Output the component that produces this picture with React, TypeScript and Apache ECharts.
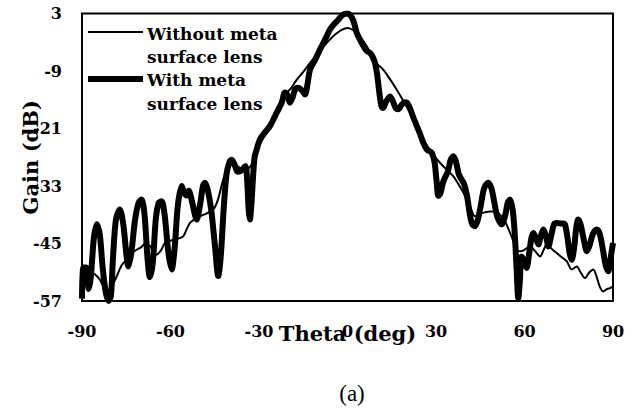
import React, { useEffect, useRef } from "react";
import * as echarts from "echarts";

// Radiation pattern, gain in dB against theta in degrees
const thetaWithout = [
  -90, -89.5, -88.4, -87, -85.5, -84, -82.8, -81.5, -80.5, -79.5, -78.2, -76.5, -74.8, -73, -71.5, -70,
  -68.5, -67, -65.8, -64.7, -63.3, -61.9, -60.5, -59, -57.5, -55.7, -54.5, -53.4, -52, -50, -48, -45.5,
  -44, -42.5, -41, -40, -38.5, -37, -35.5, -34, -32.5, -31, -29.5, -27, -24, -21.2, -19, -17.2, -15,
  -12.7, -10, -8, -5.9, -4, -2, 0, 2, 4, 6, 8, 10, 12.1, 14.5, 16.7, 19, 21.2, 23.5, 25.7, 28.5, 31.4,
  33.5, 35.9, 37.5, 39.3, 41.5, 43.2, 45, 46.5, 48.3, 50, 51.7, 53.5, 55.1, 56.2, 57.3, 58.5, 59.5, 61.9,
  63.5, 65.3, 66.5, 67.5, 69, 70.9, 72.5, 74.3, 76, 77.7, 79, 80.5, 82, 83.3, 84.5, 85.5, 86.7, 88, 89, 90,
];
const gainWithout = [
  -52.5, -51, -50.4, -51, -51.5, -52.5, -53.9, -54.8, -54.6, -53.5, -51.8, -49.5, -48.4, -47, -46.3, -45.8,
  -45, -45.5, -46.8, -47.3, -46.5, -44.9, -44.5, -44.2, -44, -43.5, -42, -40.7, -40, -39.3, -38.8, -37.9,
  -36, -32.5, -29.6, -28.5, -28.5, -29, -29.5, -29.5, -28.5, -26.5, -24, -21.5, -18.5, -14, -12.5, -10.8, -9.2,
  -7.3, -5.2, -3.8, -2.4, -1.3, -0.4, 0, -0.5, -1.8, -3.3, -5.5, -7.5, -8.7, -10.8, -12.9, -15.3, -17.7, -20.5, -23.3, -26, -28.2,
  -29.5, -31, -32.5, -34.4, -37.2, -39.3, -38.8, -38.5, -38.3, -38.3, -39, -40.5, -42.8, -44.5, -46.3, -46.6, -46.5, -45.6,
  -46.5, -47.7, -46.3, -45.2, -46, -47, -47.8, -48.7, -50.4, -49.8, -51, -52.2, -51, -50.4, -52, -54, -55, -54.5, -54.3, -54,
];

const thetaWith = [
  -90, -89.5, -88.5, -87.7, -87, -86, -85, -84, -83, -82, -81, -80.2, -79.5, -78.5, -77.2, -76, -75, -74.3,
  -73.3, -72, -70.8, -69.8, -68.8, -67.8, -67, -66, -65, -64, -63, -62, -60.7, -59.6, -58.6, -57.5, -56.2,
  -55.3, -54.5, -53.8, -52.8, -51.1, -50, -49, -48.3, -47.3, -46.2, -45, -43.8, -43, -42, -41, -40, -39.3,
  -38.3, -37.3, -36.4, -35.5, -34.6, -34, -33.5, -33.1, -32.6, -32, -31.5, -30.8, -29.7, -28, -26.3, -24,
  -22.3, -21.2, -20.4, -19.5, -18.6, -17.8, -16.8, -15.5, -14.4, -13.5, -12.7, -11, -9.3, -7.5, -5.9, -4.5,
  -3.1, -2, -1, 0, 1, 2, 3.1, 4, 5.4, 6.5, 7.6, 8.5, 9.3, 10, 10.4, 11, 11.6, 12.1, 13, 14.4, 15.5, 16.4,
  17.2, 18.2, 19.2, 20.1, 21, 22.2, 23.5, 24.5, 25.7, 26.9, 28, 28.6, 29.5, 30.2, 30.8, 31.5, 32.5, 34, 35,
  35.9, 36.8, 37.7, 38.7, 39.5, 40.5, 41.5, 42.3, 43.2, 44.2, 45.2, 46.3, 47.7, 48.8, 49.8, 50.8, 52.3, 53.5,
  54.3, 55.1, 56, 56.7, 57.3, 57.9, 58.4, 59, 59.8, 60.7, 61.6, 62.3, 63, 63.9, 64.7, 65.5, 66.4, 67.3, 68.1,
  69, 70, 70.9, 72, 73, 73.7, 74.5, 75.3, 76, 76.8, 77.5, 78.2, 79, 80.2, 81.1, 82, 83.2, 84.5, 85.5, 86.5,
  87.5, 88.4, 89.2, 90,
];
const gainWith = [
  -56.5, -50, -50, -54.5, -52, -44, -41, -43, -50, -55, -57, -56, -48, -40, -37.9, -41, -47, -49.8,
  -47, -40, -36.5, -35.8, -39, -48, -52, -49, -40, -36.5, -36.2, -39, -47, -50.4, -46, -37, -33,
  -34.5, -35, -34, -36, -40, -37, -33, -32.3, -34, -38, -45, -51.8, -48, -38, -30.5, -28, -27.5,
  -28.5, -30, -29.9, -29.5, -28.8, -32, -38, -40, -37, -31, -27, -25.4, -23.3, -21.8, -20.5, -17.7,
  -15.6, -13.5, -14, -15.6, -14.5, -12.9, -12.5, -13, -13.9, -11.5, -8.7, -6.7, -4.5, -2.3, -0.3, 0.8,
  1.7, 2.5, 2.9, 3, 2.6, 1.5, -1, -2.2, -3.8, -4.8, -5.2, -6, -7.3, -9.5, -11.5, -14.5, -16.5, -16.7, -15.5, -14.3, -15.5, -16.8,
  -17, -16.2, -15.5, -15.6, -16.5, -18.5, -20.5, -22, -24, -25.4, -25.8, -26.1, -28, -32, -35.1, -34.5, -32, -30, -27.5,
  -26.8, -28, -30.5, -31.7, -32.5, -35, -39, -41, -41.4, -40, -37, -33.5, -32.3, -33.5, -36.5, -39.5, -41, -39,
  -36.5, -35.8, -38, -43, -50, -56.4, -53, -47.7, -48.5, -50.1, -47, -44, -42.8, -44, -45.2, -43.5, -42.1, -43.5, -45.6,
  -43.5, -41, -40.7, -40.8, -40.8, -41, -43.5, -47, -48.4, -46, -42, -40, -41, -44.5, -46.6, -45.5, -43, -42.1, -43, -46,
  -49.5, -50.8, -48, -44.9,
];

const xTicks = [-90, -60, -30, 0, 30, 60, 90];
const yTicks = [-57, -45, -33, -21, -9, 3];

const seriesNames = ["Without meta surface lens", "With meta surface lens"];

const FONT = "'DejaVu Serif', serif";

function pairs(xs: number[], ys: number[]) {
  return xs.map((x, i) => [x, ys[i]]);
}

export default function App() {
  const ref = useRef<HTMLDivElement>(null);

  useEffect(() => {
    document.body.style.margin = "0";
    const chart = echarts.init(ref.current!, null, { renderer: "svg" });
    const legendText = (text: string, y: number) => ({
      type: "text",
      left: 147,
      top: y,
      style: { text, font: `bold 17px ${FONT}`, fill: "#000" },
    });
    chart.setOption({
      animation: false,
      backgroundColor: "#fff",
      grid: {
        left: 82,
        right: 27,
        top: 13.5,
        bottom: 109,
        show: true,
        borderColor: "#000",
        borderWidth: 2,
        backgroundColor: "transparent",
      },
      xAxis: {
        type: "value",
        min: -90,
        max: 90,
        name: "Theta (deg)",
        nameLocation: "middle",
        nameGap: 22,
        nameMoveOverlap: false,
        nameTextStyle: { fontFamily: FONT, fontWeight: "bold", fontSize: 21, color: "#000" },
        axisLine: { show: true, onZero: false, lineStyle: { color: "#000", width: 2 } },
        axisTick: { show: false },
        splitLine: { show: false },
        axisLabel: {
          customValues: xTicks,
          margin: 22,
          fontFamily: FONT,
          fontWeight: "bold",
          fontSize: 16,
          color: "#000",
        },
      },
      yAxis: {
        type: "value",
        min: -57,
        max: 3,
        name: "Gain (dB)",
        nameLocation: "middle",
        nameGap: 41,
        nameMoveOverlap: false,
        nameTextStyle: { fontFamily: FONT, fontWeight: "bold", fontSize: 21, color: "#000" },
        axisLine: { show: true, onZero: false, lineStyle: { color: "#000", width: 2 } },
        axisTick: { show: false },
        splitLine: { show: false },
        axisLabel: {
          customValues: yTicks,
          margin: 20,
          fontFamily: FONT,
          fontWeight: "bold",
          fontSize: 16,
          color: "#000",
          padding: [5, 0, 0, 0],
        },
      },
      series: [
        {
          name: seriesNames[0],
          type: "line",
          data: pairs(thetaWithout, gainWithout),
          symbol: "none",
          smooth: 0.3,
          lineStyle: { color: "#000", width: 2 },
          z: 3,
        },
        {
          name: seriesNames[1],
          type: "line",
          data: pairs(thetaWith, gainWith),
          symbol: "none",
          smooth: 0.3,
          lineStyle: { color: "#000", width: 6 },
          z: 2,
        },
      ],
      graphic: [
        { type: "line", shape: { x1: 88, y1: 32, x2: 143, y2: 32 }, style: { stroke: "#000", lineWidth: 2 } },
        { type: "line", shape: { x1: 88, y1: 79, x2: 143, y2: 79 }, style: { stroke: "#000", lineWidth: 6 } },
        legendText("Without meta", 25),
        legendText("surface lens", 48),
        legendText("With meta", 71),
        legendText("surface lens", 95),
        {
          type: "text",
          x: 352,
          y: 393,
          style: {
            text: "(a)",
            font: `23px 'Liberation Serif', serif`,
            fill: "#000",
            align: "center",
            verticalAlign: "middle",
          },
        },
      ],
    });
    return () => chart.dispose();
  }, []);

  return <div ref={ref} style={{ width: 640, height: 410 }} />;
}
